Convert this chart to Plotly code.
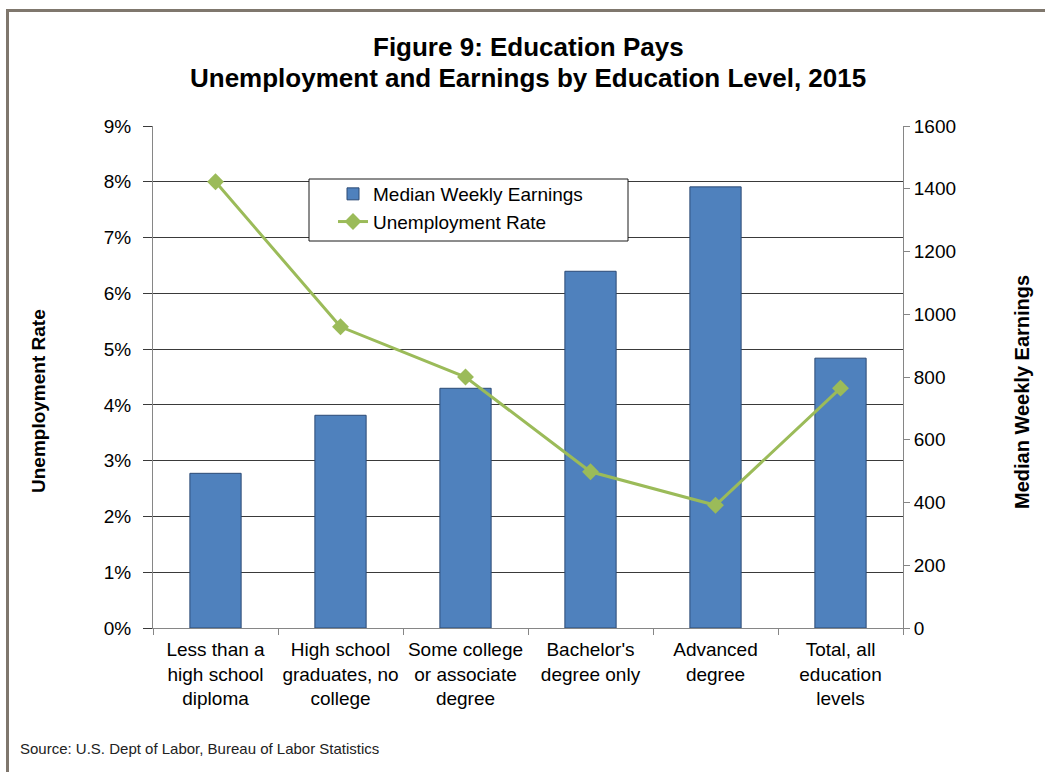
import plotly.graph_objects as go

# Education levels and 2015 figures
categories = [
    "Less than a<br>high school<br>diploma",
    "High school<br>graduates, no<br>college",
    "Some college<br>or associate<br>degree",
    "Bachelor's<br>degree only",
    "Advanced<br>degree",
    "Total, all<br>education<br>levels",
]
median_weekly_earnings = [493, 678, 764, 1137, 1406, 860]
unemployment_rate = [0.080, 0.054, 0.045, 0.028, 0.022, 0.043]

left_tick_vals = [i / 100 for i in range(0, 10)]
right_tick_vals = list(range(0, 1601, 200))

W, H = 1045, 772
L, R, T, B = 153, 142, 126, 144
PW, PH = W - L - R, H - T - B


def px_x(x):
    return (x - L) / PW


def px_y(y):
    return (H - B - y) / PH


FONT = "Liberation Sans, Arial, sans-serif"
GRID = "#3a3a3a"
AXIS = "#868686"

fig = go.Figure()

fig.add_trace(go.Bar(
    x=categories,
    y=median_weekly_earnings,
    name="Median Weekly Earnings",
    marker=dict(color="#4F81BD", line=dict(color="#2c4a75", width=1)),
    width=0.41,
    yaxis="y",
))

fig.add_trace(go.Scatter(
    x=categories,
    y=unemployment_rate,
    name="Unemployment Rate",
    mode="lines+markers",
    line=dict(color="#9BBB59", width=3),
    marker=dict(symbol="diamond", size=13, color="#9BBB59"),
    yaxis="y2",
))

shapes = [
    # white legend box
    dict(type="rect", xref="paper", yref="paper",
         x0=px_x(309), x1=px_x(628), y0=px_y(241), y1=px_y(179),
         fillcolor="white", line=dict(color="#1a1a1a", width=1), layer="above"),
    # outer frame (top and left edges)
    dict(type="line", xref="paper", yref="paper",
         x0=px_x(6), x1=px_x(W + 5), y0=px_y(10.5), y1=px_y(10.5),
         line=dict(color="#7f776d", width=3)),
    dict(type="line", xref="paper", yref="paper",
         x0=px_x(7.5), x1=px_x(7.5), y0=px_y(9), y1=px_y(H + 5),
         line=dict(color="#7f776d", width=3)),
]

title_font = dict(family=FONT, size=26, color="black")
annotations = [
    dict(text="<b>Figure 9: Education Pays</b>", xref="paper", yref="paper",
         x=0.5, y=px_y(47), xanchor="center", yanchor="middle",
         showarrow=False, font=title_font),
    dict(text="<b>Unemployment and Earnings by Education Level, 2015</b>",
         xref="paper", yref="paper",
         x=0.5, y=px_y(78), xanchor="center", yanchor="middle",
         showarrow=False, font=title_font),
    dict(text="<b>Unemployment Rate</b>", xref="paper", yref="paper",
         x=px_x(38), y=px_y(401), xanchor="center", yanchor="middle",
         textangle=-90, showarrow=False,
         font=dict(family=FONT, size=19, color="black")),
    dict(text="<b>Median Weekly Earnings</b>", xref="paper", yref="paper",
         x=px_x(1022), y=px_y(392), xanchor="center", yanchor="middle",
         textangle=-90, showarrow=False,
         font=dict(family=FONT, size=20, color="black")),
    dict(text="Source: U.S. Dept of Labor, Bureau of Labor Statistics",
         xref="paper", yref="paper", x=px_x(18), y=px_y(748),
         xanchor="left", yanchor="middle", showarrow=False,
         font=dict(family=FONT, size=15, color="#222222")),
]

fig.update_layout(
    width=W, height=H,
    margin=dict(l=L, r=R, t=T, b=B),
    paper_bgcolor="white",
    plot_bgcolor="white",
    font=dict(family=FONT, size=19, color="black"),
    showlegend=True,
    legend=dict(
        x=px_x(333), y=px_y(175), xanchor="left", yanchor="top",
        bgcolor="rgba(0,0,0,0)", borderwidth=0,
        font=dict(family=FONT, size=19, color="black"),
        traceorder="normal", tracegroupgap=2,
    ),
    xaxis=dict(
        type="category",
        showgrid=False,
        showline=True, linecolor=AXIS, linewidth=1,
        ticks="outside", tickson="boundaries", ticklen=6, tickcolor=AXIS,
        tickangle=0, ticklabelstandoff=4,
        tickfont=dict(family=FONT, size=19, color="black"),
    ),
    yaxis=dict(
        side="right",
        range=[0, 1600],
        tickvals=right_tick_vals,
        showgrid=False, zeroline=False,
        showline=True, linecolor=AXIS, linewidth=1,
        ticks="outside", ticklen=6, tickcolor=AXIS,
        tickfont=dict(family=FONT, size=19, color="black"),
    ),
    yaxis2=dict(
        overlaying="y", side="left",
        range=[0, 0.09],
        tickvals=left_tick_vals, tickformat=".0%",
        showgrid=True, gridcolor=GRID, gridwidth=1,
        zeroline=False,
        showline=True, linecolor=AXIS, linewidth=1,
        ticks="outside", ticklen=9, tickcolor=GRID,
        ticklabelstandoff=8,
        tickfont=dict(family=FONT, size=19, color="black"),
    ),
    shapes=shapes,
    annotations=annotations,
)

fig.write_html("out.html")
